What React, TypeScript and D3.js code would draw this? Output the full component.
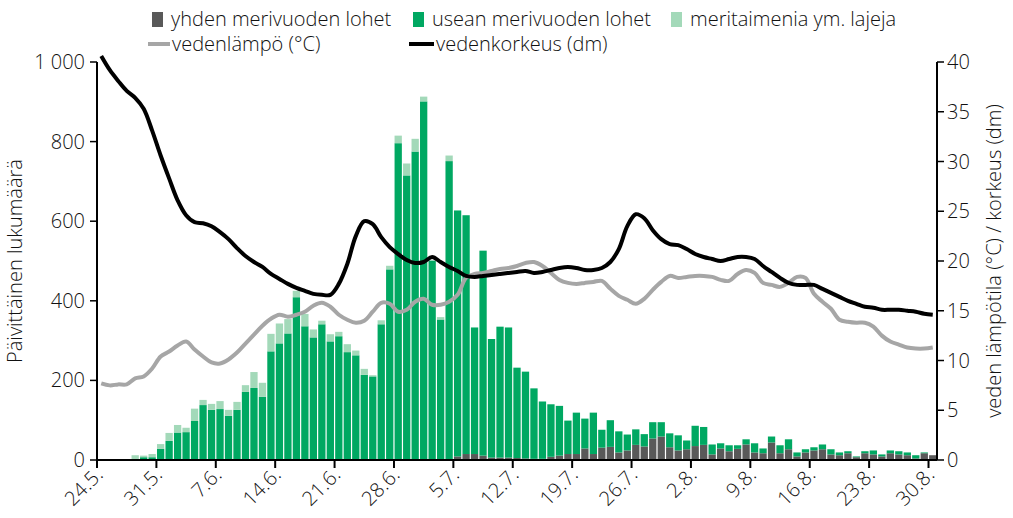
import React from "react";
import * as d3 from "d3";

// ---- data (daily, 24.5. – 30.8.) ----
const startDate = new Date(2020, 4, 24);
const endDate = new Date(2020, 7, 31);

const yhdenMerivuoden = [
  0, 0, 0, 0, 0, 0, 0, 0, 0, 0, 0, 0, 0, 0, 0, 0, 0, 0, 0, 0,
  0, 0, 0, 0, 0, 0, 0, 0, 0, 0, 0, 0, 0, 0, 0, 0, 0, 0, 0, 0,
  0, 0, 9, 15, 15, 11, 6, 6, 6, 5, 4, 3, 3, 8, 11, 15, 15, 29, 15, 31,
  33, 19, 24, 38, 34, 54, 59, 32, 24, 27, 35, 38, 14, 29, 22, 28, 39, 19, 17, 44,
  17, 27, 9, 19, 24, 27, 14, 12, 17, 7, 17, 14, 9, 17, 14, 12, 4, 17, 12,
];
const useanMerivuoden = [
  0, 0, 0, 0, 0, 7, 7, 28, 48, 69, 70, 98, 138, 126, 128, 111, 126, 171, 181, 159,
  273, 293, 318, 409, 336, 308, 341, 298, 311, 271, 263, 214, 210, 341, 479, 796, 715, 775, 901, 501,
  353, 751, 618, 600, 318, 515, 298, 329, 327, 227, 218, 177, 144, 132, 125, 84, 104, 75, 104, 45,
  67, 53, 40, 39, 31, 41, 36, 35, 38, 22, 51, 45, 25, 13, 15, 9, 13, 23, 12, 15,
  20, 25, 10, 8, 8, 12, 13, 7, 5, 2, 5, 10, 5, 7, 8, 7, 8, 2, 0,
];
const meritaimenia = [
  0, 0, 2, 0, 12, 4, 8, 12, 20, 19, 11, 31, 13, 15, 20, 15, 20, 17, 40, 35,
  44, 50, 36, 16, 31, 20, 9, 18, 11, 20, 12, 15, 3, 10, 9, 19, 30, 32, 12, 0,
  6, 14, 0, 0, 0, 0, 0, 0, 0, 0, 0, 0, 0, 0, 0, 0, 0, 0, 0, 0,
  0, 0, 0, 0, 0, 0, 0, 0, 0, 0, 0, 0, 0, 0, 0, 0, 0, 0, 0, 0,
  0, 0, 0, 0, 0, 0, 0, 0, 0, 0, 0, 0, 0, 0, 0, 0, 0, 0, 0,
];
const vedenLampo = [
  7.7, 7.5, 7.6, 7.6, 8.2, 8.4, 9.2, 10.4, 10.9, 11.5, 11.9, 11.1, 10.4, 9.8, 9.7, 10.1, 10.8, 11.7, 12.6, 13.5,
  14.2, 14.6, 14.4, 14.6, 14.9, 15.5, 15.8, 15.4, 14.6, 14.1, 13.8, 14.0, 14.9, 15.8, 15.7, 14.9, 15.1, 15.9, 16.2, 15.6,
  15.6, 15.9, 16.6, 18.3, 18.7, 18.8, 19.0, 19.2, 19.3, 19.5, 19.8, 19.9, 19.5, 18.8, 18.1, 17.8, 17.7, 17.8, 17.9, 18.0,
  17.2, 16.5, 16.1, 15.7, 16.2, 17.1, 17.9, 18.5, 18.3, 18.4, 18.5, 18.5, 18.4, 18.1, 18.0, 18.7, 19.1, 18.8, 17.8, 17.6,
  17.4, 17.8, 18.4, 18.3, 16.7, 15.9, 15.2, 14.1, 13.9, 13.8, 13.8, 13.4, 12.5, 11.9, 11.6, 11.3, 11.2, 11.2, 11.3,
];
const vedenKorkeus = [
  40.6, 39.2, 38.1, 37.1, 36.4, 35.3, 33.1, 30.6, 28.3, 26.1, 24.6, 23.9, 23.8, 23.5, 22.9, 22.2, 21.3, 20.5, 19.9, 19.4,
  18.7, 18.2, 17.7, 17.3, 17.0, 16.7, 16.6, 16.6, 17.7, 19.7, 22.5, 24.0, 23.7, 22.4, 21.4, 20.7, 20.1, 19.8, 19.9, 20.4,
  19.9, 19.4, 19.0, 18.5, 18.4, 18.5, 18.6, 18.7, 18.8, 18.9, 19.0, 18.8, 18.9, 19.1, 19.3, 19.4, 19.3, 19.1, 19.1, 19.3,
  19.9, 21.2, 23.5, 24.7, 24.3, 23.1, 22.2, 21.7, 21.6, 21.2, 20.7, 20.4, 20.2, 20.0, 20.2, 20.4, 20.4, 20.2, 19.5, 18.9,
  18.3, 17.8, 17.6, 17.6, 17.6, 17.2, 16.8, 16.4, 16.0, 15.7, 15.4, 15.3, 15.1, 15.1, 15.1, 15.0, 14.9, 14.7, 14.6,
];
const leftTicks = [0, 200, 400, 600, 800, 1000];
const rightTicks = [0, 5, 10, 15, 20, 25, 30, 35, 40];

const seriesKeys = ["yhden", "usean", "meri"];
const seriesNames = ["yhden merivuoden lohet", "usean merivuoden lohet", "meritaimenia ym. lajeja"];
const seriesColors = ["#595959", "#00a862", "#a3d9b9"];

const FONT = "'Open Sans', 'Noto Sans', sans-serif";
const FS = 20;
const FW = 300;
const TXT = "#111";

export default function App() {
  const W = 1013;
  const H = 518;
  const left = 97;
  const right = 937;
  const top = 62;
  const bottom = 460;

  const days = d3.timeDay.range(startDate, endDate);
  const rows = days.map((d, i) => ({
    date: d,
    yhden: yhdenMerivuoden[i],
    usean: useanMerivuoden[i],
    meri: meritaimenia[i],
    temp: vedenLampo[i],
    level: vedenKorkeus[i],
  }));

  const pad = 0.14;
  const x = d3
    .scaleBand<Date>()
    .domain(days)
    .range([left, right])
    .paddingInner(pad)
    .paddingOuter(pad / 2);
  const step = x.step();
  const edge = (d: Date) => (x(d) as number) - (step * pad) / 2;
  const center = (d: Date) => (x(d) as number) + x.bandwidth() / 2;

  const yL = d3.scaleLinear().domain([0, 1000]).range([bottom, top]);
  const yR = d3.scaleLinear().domain([0, 40]).range([bottom, top]);

  const stack = d3.stack<any>().keys(seriesKeys);
  const stacked = stack(rows);

  const line = (key: string) =>
    d3
      .line<any>()
      .x((d) => center(d.date))
      .y((d) => yR(d[key]))
      .curve(d3.curveCatmullRom.alpha(0.5))(rows) as string;

  const fmt = d3.timeFormat("%-d.%-m.");
  const weekTicks = days.filter((_, i) => i % 7 === 0);
  const fmtThousands = (v: number) => (v >= 1000 ? d3.format(",")(v).replace(",", " ") : String(v));

  return (
    <svg
      width={W}
      height={H}
      style={{ display: "block", position: "absolute", left: 0, top: 0 }}
      fontFamily={FONT}
      fontWeight={FW}
    >
      <rect width={W} height={H} fill="#fff" />
      {/* bars */}
      {stacked.map((s, si) => (
        <g key={s.key} fill={seriesColors[si]}>
          {s.map((d, i) =>
            d[1] - d[0] > 0 ? (
              <rect
                key={i}
                x={x(d.data.date)}
                width={x.bandwidth()}
                y={yL(d[1])}
                height={yL(d[0]) - yL(d[1])}
              />
            ) : null
          )}
        </g>
      ))}
      {/* lines */}
      <path d={line("temp")} fill="none" stroke="#a6a6a6" strokeWidth={4} strokeLinejoin="round" />
      <path d={line("level")} fill="none" stroke="#000" strokeWidth={4} strokeLinejoin="round" />

      {/* axes */}
      <line x1={left} x2={left} y1={top} y2={bottom} stroke="#000" strokeWidth={2} />
      <line x1={right} x2={right} y1={top} y2={bottom} stroke="#000" strokeWidth={2} />
      <line x1={left} x2={right} y1={bottom} y2={bottom} stroke="#000" strokeWidth={2} />
      {leftTicks.map((t) => (
        <g key={"l" + t}>
          <line x1={left - 7} x2={left} y1={yL(t)} y2={yL(t)} stroke="#000" strokeWidth={1.5} />
          <text x={left - 12} y={yL(t)} dy="0.35em" textAnchor="end" fontSize={FS} fill={TXT}>
            {fmtThousands(t)}
          </text>
        </g>
      ))}
      {rightTicks.map((t) => (
        <g key={"r" + t}>
          <line x1={right} x2={right + 7} y1={yR(t)} y2={yR(t)} stroke="#000" strokeWidth={1.5} />
          <text x={right + 10} y={yR(t)} dy="0.35em" textAnchor="start" fontSize={FS} fill={TXT}>
            {t}
          </text>
        </g>
      ))}
      {weekTicks.map((d) => (
        <g key={"x" + d.getTime()}>
          <line x1={edge(d)} x2={edge(d)} y1={bottom} y2={bottom + 8} stroke="#000" strokeWidth={2} />
          <text
            transform={`translate(${edge(d) + 7},${bottom + 16}) rotate(-45)`}
            textAnchor="end"
            fontSize={FS}
            fill={TXT}
          >
            {fmt(d)}
          </text>
        </g>
      ))}
      <text
        transform={`translate(22,${(top + bottom) / 2}) rotate(-90)`}
        textAnchor="middle"
        fontSize={FS}
        fill={TXT}
      >
        Päivittäinen lukumäärä
      </text>
      <text
        transform={`translate(1001,${(top + bottom) / 2}) rotate(-90)`}
        textAnchor="middle"
        fontSize={FS}
        fill={TXT}
      >
        veden lämpötila (°C) / korkeus (dm)
      </text>

      {/* legend */}
      {[152, 413, 671].map((lx, i) => (
        <g key={"lg" + i}>
          <rect x={lx} y={12} width={11} height={15} fill={seriesColors[i]} />
          <text x={lx + 19} y={26} fontSize={FS} fill={TXT}>
            {seriesNames[i]}
          </text>
        </g>
      ))}
      <line x1={148} x2={170} y1={44} y2={44} stroke="#a6a6a6" strokeWidth={4} />
      <text x={172} y={51} fontSize={FS} fill={TXT}>vedenlämpö (°C)</text>
      <line x1={409} x2={434} y1={44} y2={44} stroke="#000" strokeWidth={4} />
      <text x={436} y={51} fontSize={FS} fill={TXT}>vedenkorkeus (dm)</text>
    </svg>
  );
}
